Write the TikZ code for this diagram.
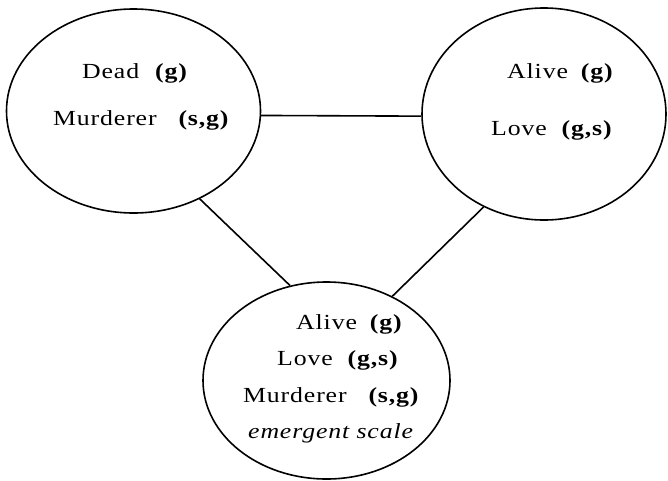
\documentclass[tikz,border=0pt]{standalone}
\usepackage{fontspec}
\setmainfont{Liberation Serif}[FakeStretch=1.2,LetterSpace=4]
\usetikzlibrary{shapes.geometric}
\tikzset{
  bubble/.style={ellipse, draw, line width=1.6pt, inner sep=0pt},
  label text/.style={anchor=base west, inner sep=0pt, font=\fontsize{21.5}{26}\selectfont},
  link/.style={line width=1.6pt}
}
\newcommand{\tag}[1]{\textbf{(#1)}}
\begin{document}
\begin{tikzpicture}[x=1pt,y=-1pt]
  \useasboundingbox (0,0) rectangle (668,480);

  % the three scales
  \node[bubble, minimum width=254pt, minimum height=204pt] (dead) at (133.5,111) {};
  \node[bubble, minimum width=244pt, minimum height=212pt] (alive) at (544,114) {};
  \node[bubble, minimum width=247pt, minimum height=197pt] (blend) at (326.5,380.5) {};

  % links between them
  \draw[link] (dead.-2.7) -- (alive.181.4);
  \draw[link] (dead.-53.9) -- (blend.111.9);
  \draw[link] (alive.-123) -- (blend.52.3);

  % left scale
  \node[label text] (d1) at (82,78) {Dead\hspace{15pt}\tag{g}};
  \node[label text] (d2) at (53,125) {Murderer\hspace{21pt}\tag{s,g}};

  % right scale
  \node[label text] (a1) at (507,78) {Alive\hspace{12pt}\tag{g}};
  \node[label text] (a2) at (491,135) {Love\hspace{14pt}\tag{g,s}};

  % emergent scale
  \node[label text] (b1) at (296,329) {Alive\hspace{12pt}\tag{g}};
  \node[label text] (b2) at (277,365) {Love\hspace{14pt}\tag{g,s}};
  \node[label text] (b3) at (243,402) {Murderer\hspace{21pt}\tag{s,g}};
  \node[label text] (b4) at (248,438) {\itshape emergent scale};
\end{tikzpicture}
\end{document}
